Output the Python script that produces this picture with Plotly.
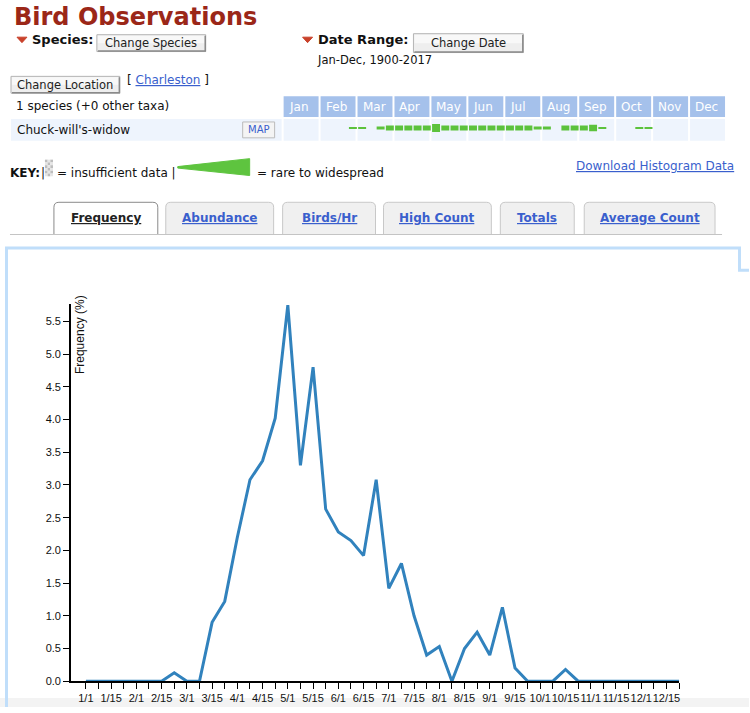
import plotly.graph_objects as go

# weekly frequency (%), 4 weeks per month, Jan..Dec
freq = [0, 0, 0, 0, 0, 0, 0, 0.13, 0, 0,
        0.9, 1.22, 2.2, 3.08, 3.37, 4.02, 5.75, 3.3, 4.8, 2.63,
        2.28, 2.15, 1.92, 3.08, 1.42, 1.8, 1.0, 0.4, 0.53, 0,
        0.5, 0.75, 0.4, 1.13, 0.2, 0, 0, 0, 0.18, 0,
        0, 0, 0, 0, 0, 0, 0, 0]

tick_labels = ["1/1", "1/15", "2/1", "2/15", "3/1", "3/15", "4/1", "4/15",
               "5/1", "5/15", "6/1", "6/15", "7/1", "7/15", "8/1", "8/15",
               "9/1", "9/15", "10/1", "10/15", "11/1", "11/15", "12/1", "12/15"]

months = ["Jan", "Feb", "Mar", "Apr", "May", "Jun",
          "Jul", "Aug", "Sep", "Oct", "Nov", "Dec"]

# bar-chart levels for the small histogram row (0 = nothing)
week_levels = [0, 0, 0, 0, 0, 0, 0, 1, 1, 0,
               2, 3, 3, 3, 3, 3, 5, 3, 3, 3,
               3, 3, 3, 3, 3, 3, 3, 2, 2, 0,
               3, 3, 3, 4, 1, 0, 0, 0, 1, 1,
               0, 0, 0, 0, 0, 0, 0, 0]

tabs = ["Frequency", "Abundance", "Birds/Hr", "High Count", "Totals", "Average Count"]

W, H = 750, 713
page_font = "DejaVu Sans"
chart_font = "Liberation Sans, Arial"
link = "#3a5fcd"


def px(x):
    return x / W


def py(y):
    return 1 - y / H


shapes = []
annotations = []


def text(x, y, s, size=12, color="#111", bold=False, anchor="left", font=page_font):
    if bold:
        s = "<b>" + s + "</b>"
    annotations.append(dict(x=px(x), y=py(y), xref="paper", yref="paper", text=s,
                            showarrow=False, xanchor=anchor, yanchor="middle",
                            font=dict(family=font, size=size, color=color)))


def rect(x0, y0, x1, y1, fill, line=None, lw=1, layer="below"):
    shapes.append(dict(type="rect", xref="paper", yref="paper",
                       x0=px(x0), x1=px(x1), y0=py(y1), y1=py(y0),
                       fillcolor=fill, layer=layer,
                       line=dict(color=line if line else fill, width=lw if line else 0)))


def path(points, color, width=1, fill=None, closed=False):
    d = "M " + " L ".join("%f,%f" % (px(a), py(b)) for a, b in points)
    if closed:
        d += " Z"
    shapes.append(dict(type="path", xref="paper", yref="paper", path=d,
                       line=dict(color=color, width=width),
                       fillcolor=fill if fill else "rgba(0,0,0,0)", layer="below"))


def button(x0, y0, x1, y1, label, size=11.5):
    rect(x0, y0, x1, y1, "#eeeeee", "#b4b4b4")
    rect(x0 + 1, y0 + 1, x1 - 1, (y0 + y1) / 2, "#f8f8f8")
    path([(x1 - 0.5, y0 + 1), (x1 - 0.5, y1 - 0.5), (x0 + 1, y1 - 0.5)], "#8a8a8a", 1.5)
    text((x0 + x1) / 2, (y0 + y1) / 2, label, size=size, color="#222", anchor="center")


def triangle(x, y):
    path([(x, y - 2.5), (x + 10, y - 2.5), (x + 5, y + 3)], "#c9412a", 1, "#c9412a", True)


# ---- header ----
text(12, 17, "Bird Observations", size=24, color="#9b2718", bold=True)
triangle(17, 40)
text(30, 40, "Species:", size=13, bold=True)
button(97, 35, 206, 52, "Change Species")
triangle(303, 40)
text(316, 40, "Date Range:", size=13, bold=True)
button(414, 34, 524, 53, "Change Date")
text(315, 61, "Jan-Dec, 1900-2017", size=11.5)
button(11, 77, 120, 94, "Change Location")
text(125, 81, "[ <span style='color:%s'><u>Charleston</u></span> ]" % link, size=12)
text(14, 107, "1 species (+0 other taxa)", size=12)

# species row
rect(11, 120, 282, 142, "#eef4fd")
text(15, 131, "Chuck-will's-widow", size=12)
rect(243, 123, 275, 139, "#f4f4f4", "#bbbbbb")
text(259, 131, "MAP", size=10, color=link, anchor="center")

# month table
col0, colw = 284, 37
for m, name in enumerate(months):
    x0 = col0 + colw * m
    rect(x0, 97, x0 + colw - 2, 118, "#a5c1eb")
    rect(x0, 120, x0 + colw - 2, 142, "#eef4fd")
    text(x0 + 3, 107.5, name, size=12, color="white")

# key
text(8, 174, "KEY:", size=12, bold=True)
text(39, 174, "|", size=12)
for r in range(6):
    for c in range(3):
        col = "#bdbdbd" if (r + c) % 2 == 0 else "#e6e6e6"
        rect(45 + c * 2.7, 161 + r * 2.8, 45 + (c + 1) * 2.7, 161 + (r + 1) * 2.8, col)
text(55, 174, "= insufficient data |", size=12)
path([(178, 168), (250, 160), (250, 177), (178, 169.5)], "#5ec43f", 1, "#5ec43f", True)
text(255, 174, "= rare to widespread", size=12)
text(737, 167, "<u>Download Histogram Data</u>", size=12, color=link, anchor="right")

# tabs
tab_x = [(54, 158), (166, 274), (283, 376), (384, 492), (501, 575), (585, 716)]
shapes.append(dict(type="line", xref="paper", yref="paper", x0=px(10), x1=px(723),
                   y0=py(236.5), y1=py(236.5), line=dict(color="#c4c4c4", width=1.2)))
for i, (name, (x0, x1)) in enumerate(zip(tabs, tab_x)):
    active = i == 0
    r = 5
    y0, y1 = 204, 236.5
    d = ("M %f,%f L %f,%f Q %f,%f %f,%f L %f,%f Q %f,%f %f,%f L %f,%f Z" % (
        px(x0), py(y1), px(x0), py(y0 + r), px(x0), py(y0), px(x0 + r), py(y0),
        px(x1 - r), py(y0), px(x1), py(y0), px(x1), py(y0 + r), px(x1), py(y1)))
    shapes.append(dict(type="path", xref="paper", yref="paper", path=d, layer="below",
                       fillcolor="white" if active else "#f0f0f0",
                       line=dict(color="#8a8a8a" if active else "#c8c8c8", width=1)))
    text((x0 + x1) / 2, 220, "<u>" + name + "</u>", size=12, bold=True,
         color="#222" if active else link, anchor="center")

# bottom band and chart panel border
rect(0, 704, 750, 713, "#f3f3f3")
path([(6.5, 713), (6.5, 250), (740.5, 250), (740.5, 272.5), (750, 272.5)], "#c0defa", 3)

# y axis title
annotations.append(dict(x=px(80), y=py(337), xref="paper", yref="paper",
                        text="Frequency (%)", textangle=-90, showarrow=False,
                        xanchor="center", yanchor="middle",
                        font=dict(family=chart_font, size=12, color="#111")))

# ---- traces ----
weeks = list(range(len(freq)))
fig = go.Figure()
fig.add_trace(go.Scatter(x=weeks, y=freq, mode="lines", cliponaxis=False,
                         line=dict(color="#3182bd", width=3), hoverinfo="x+y"))

level_px = {1: 1.5, 2: 3, 3: 5, 4: 6.5, 5: 8}
bx = [k + 0.5 for k, lv in enumerate(week_levels) if lv > 0]
bh = [level_px[lv] for lv in week_levels if lv > 0]
fig.add_trace(go.Bar(x=bx, y=bh, base=[-h / 2 for h in bh], width=0.86,
                     marker=dict(color="#5cc23c", line=dict(width=0)),
                     xaxis="x2", yaxis="y2", hoverinfo="skip"))

tickvals = weeks
ticktext = [tick_labels[i // 2] if i % 2 == 0 else "" for i in weeks]
x_left = -(86 - 71) / 12.638

fig.update_layout(
    width=W, height=H,
    margin=dict(l=0, r=0, t=0, b=0),
    paper_bgcolor="white", plot_bgcolor="white",
    showlegend=False,
    xaxis=dict(domain=[px(71), px(680)], range=[x_left, 47],
               tickvals=tickvals, ticktext=ticktext, tickangle=0,
               ticks="outside", ticklen=6, tickcolor="black", tickwidth=1,
               showline=True, linecolor="black", linewidth=1.5,
               showgrid=False, zeroline=False, fixedrange=True,
               tickfont=dict(family=chart_font, size=11, color="#111")),
    yaxis=dict(domain=[py(687), py(307)], range=[0, 5.76],
               tickvals=[i * 0.5 for i in range(12)], tickformat=".1f",
               ticks="outside", ticklen=6, tickcolor="black", tickwidth=1,
               showline=True, linecolor="black", linewidth=1.5,
               showgrid=False, zeroline=False, fixedrange=True,
               tickfont=dict(family=chart_font, size=11, color="#111")),
    xaxis2=dict(domain=[px(284), px(728)], range=[0, 48], visible=False,
                anchor="y2", fixedrange=True),
    yaxis2=dict(domain=[py(141), py(117)], range=[-12, 12], visible=False,
                anchor="x2", fixedrange=True),
    shapes=shapes,
    annotations=annotations,
)

# no default body margin, so the figure sits at the top-left corner of the page
fig.write_html("out.html", config={"displayModeBar": False},
               post_script="document.body.style.margin='0';")
